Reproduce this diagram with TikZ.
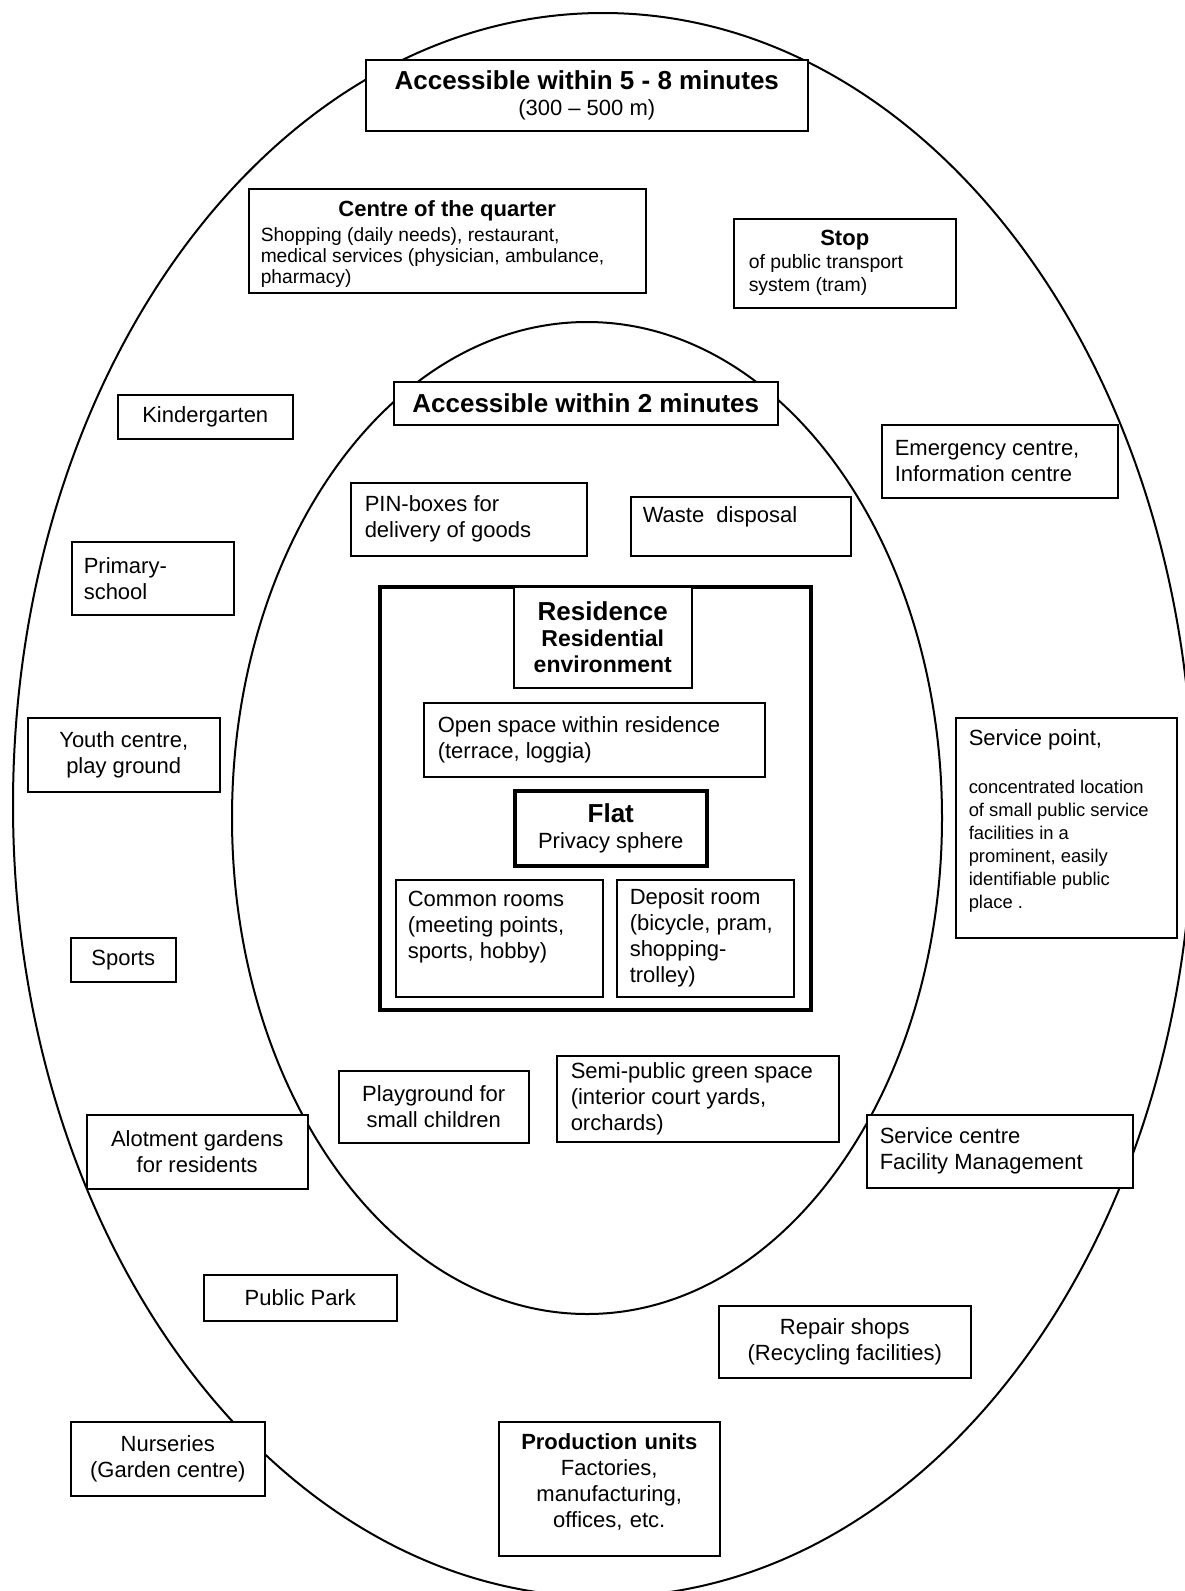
\documentclass[tikz,border=0pt]{standalone}
\usepackage{fontspec}
\setmainfont{Liberation Sans}
\newcommand{\headfont}{\fontsize{13}{15}\selectfont\bfseries}
\newcommand{\notefont}{\fontsize{9.6}{10.5}\selectfont}

\begin{document}
\begin{tikzpicture}[x=0.5pt, y=-0.5pt,
    ring/.style={line width=1pt},
    box/.style={draw, line width=0.75pt, fill=white, anchor=north west, inner sep=0pt, align=center, font=\fontsize{11}{13}\selectfont},
    lbox/.style={box, align=flush left, inner xsep=6.5pt},
    heavy/.style={box, line width=1.75pt}
]
    \useasboundingbox (0,0) rectangle (1184,1591);

    % the two walking zones
    \draw[ring] (603,805) ellipse [x radius=295pt, y radius=396pt];
    \draw[ring] (587,818) ellipse [x radius=177.5pt, y radius=248pt];

    % outer zone
    \node[box, minimum width=221pt, minimum height=35.5pt] (reachfive) at (365,59) {{\headfont Accessible within 5 - 8 minutes}\\ (300 – 500 m)};
    \node[lbox, inner xsep=6pt, text width=186.5pt, minimum height=52pt, text height=8pt, text depth=32pt] (centre) at (248,188) {\makebox[\linewidth]{\bfseries Centre of the quarter}\par\vspace{2pt}{\notefont Shopping (daily needs), restaurant,\\ medical services (physician, ambulance,\\ pharmacy)\par}};
    \node[lbox, inner xsep=7.5pt, text width=96pt, minimum height=44.5pt] (stop) at (733,218) {\makebox[\linewidth]{\bfseries Stop}\par{\fontsize{9.7}{11.5}\selectfont of public transport\\ system (tram)\par}};
    \node[box, minimum width=87.5pt, minimum height=22pt] (kinder) at (117,394) {Kindergarten};
    \node[lbox, text width=105pt, minimum height=36.5pt] (emerg) at (881,424) {Emergency centre,\\ Information centre};
    \node[lbox, inner xsep=6pt, text width=69pt, minimum height=36.5pt] (primary) at (71,541) {Primary-\\ school};
    \node[box, minimum width=96pt, minimum height=37pt] (youth) at (27,717) {Youth centre,\\ play ground};
    \node[lbox, text width=97.5pt, minimum height=110pt, text height=8pt, text depth=90pt] (servpoint) at (955,717) {Service point,\par\vspace{12.5pt}{\fontsize{9.2}{11.5}\selectfont concentrated location\\ of small public service\\ facilities in a\\ prominent, easily\\ identifiable public\\ place .\par}};
    \node[box, minimum width=52.5pt, minimum height=22pt] (sports) at (70,937) {Sports};
    \node[box, minimum width=110.5pt, minimum height=37pt] (allot) at (86,1114) {Alotment gardens\\ for residents};
    \node[lbox, text width=120pt, minimum height=36.5pt] (servcentre) at (866,1114) {Service centre\\ Facility Management};
    \node[box, minimum width=96.5pt, minimum height=23pt] (park) at (203,1274) {Public Park};
    \node[box, minimum width=126pt, minimum height=36pt] (repair) at (718,1305) {Repair shops\\ (Recycling facilities)};
    \node[box, minimum width=97pt, minimum height=37pt] (nursery) at (70,1421) {Nurseries\\ (Garden centre)};
    \node[box, text width=110.5pt, minimum height=67pt, text height=8pt, text depth=47pt] (production) at (498,1421) {\textbf{Production units}\\ Factories,\\ manufacturing,\\ offices, etc.};

    % inner zone
    \node[box, minimum width=192pt, minimum height=21.5pt, font=\headfont] (reachtwo) at (393,381) {Accessible within 2 minutes};
    \node[lbox, inner xsep=7pt, text width=104pt, minimum height=36.5pt] (pin) at (350,482) {PIN-boxes for\\ delivery of goods};
    \node[lbox, inner xsep=6pt, text width=98pt, minimum height=29.5pt, text height=8pt, text depth=11.5pt] (waste) at (630,496) {Waste\ \ disposal};
    \node[box, minimum width=95pt, minimum height=36pt] (playground) at (338,1070) {Playground for\\ small children};
    \node[lbox, inner xsep=7pt, text width=127pt, minimum height=43pt] (green) at (556,1055) {Semi-public green space\\ (interior court yards,\\ orchards)};

    % residence
    \node[heavy, minimum width=215.5pt, minimum height=211.5pt] (residence) at (378,585) {};
    \node[box, minimum width=89pt, minimum height=50.5pt, font=\bfseries\fontsize{11.5}{13}\selectfont] (restitle) at (513,586) {{\headfont Residence}\\ Residential\\ environment};
    \node[lbox, inner xsep=7pt, text width=156.5pt, minimum height=37pt] (openspace) at (423,702) {Open space within residence\\ (terrace, loggia)};
    \node[heavy, minimum width=96pt, minimum height=37.5pt] (flat) at (513,789) {{\headfont Flat}\\ Privacy sphere};
    \node[lbox, inner xsep=6pt, text width=91.5pt, minimum height=58.5pt, text height=8pt, text depth=40pt] (common) at (395,879) {Common rooms\\ (meeting points,\\ sports, hobby)};
    \node[lbox, text width=75.5pt, minimum height=58.5pt] (deposit) at (616,879) {Deposit room\\ (bicycle, pram,\\ shopping-\\ trolley)};
\end{tikzpicture}
\end{document}
